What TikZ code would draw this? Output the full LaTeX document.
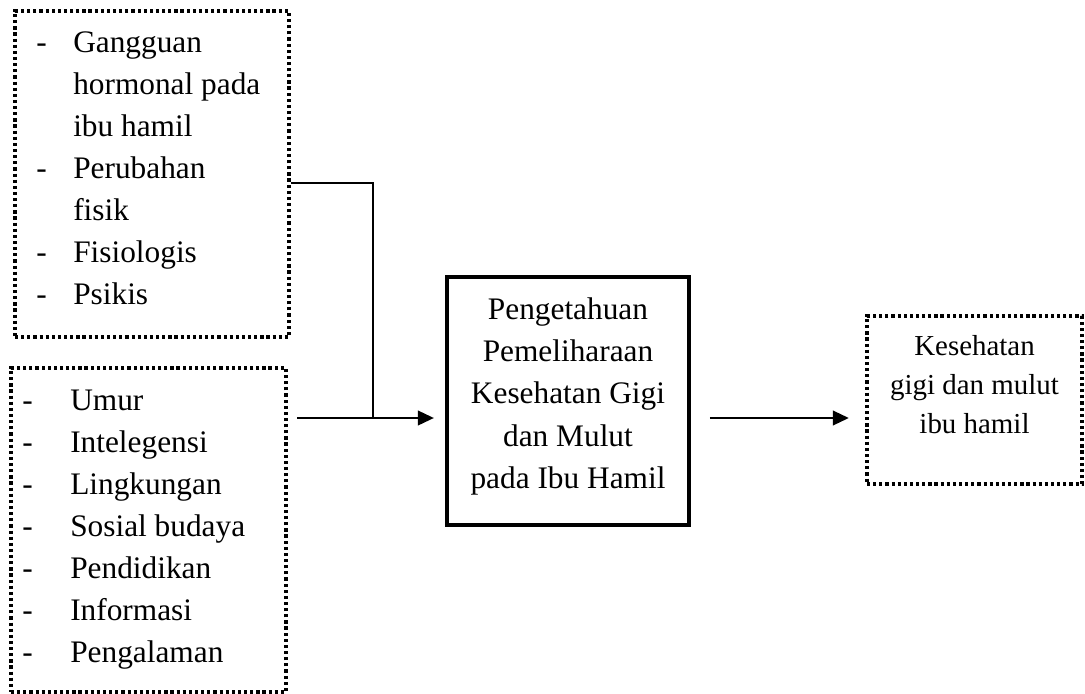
\documentclass[tikz,border=0pt]{standalone}
\usepackage{fontspec}
\setmainfont{Liberation Serif}
\usetikzlibrary{arrows.meta}
\tikzset{
  dotbox/.style={draw, line width=2.5pt, dash pattern=on 2.4pt off 2.2pt, inner sep=0pt},
  mainbox/.style={draw, line width=3.2pt, inner sep=0pt},
  conn/.style={line width=1.5pt},
  arr/.style={conn, -{Triangle[length=12pt,width=11pt]}},
  txt/.style={inner sep=0pt, anchor=base west, font=\fontsize{23.5}{28}\selectfont},
  ctxt/.style={inner sep=0pt, anchor=base, font=\fontsize{23.5}{28}\selectfont},
  rtxt/.style={inner sep=0pt, anchor=base, font=\fontsize{21.7}{26}\selectfont}
}
\begin{document}
\begin{tikzpicture}[x=0.75pt, y=-0.75pt]
\useasboundingbox (0,0) rectangle (1085,693);
\fill[white] (0,0) rectangle (1085,693);
% boxes
\node[dotbox, minimum width=274*0.75pt, minimum height=326*0.75pt] (tb) at (152,174) {};
\node[dotbox, minimum width=275*0.75pt, minimum height=324*0.75pt] (bb) at (148.5,530) {};
\node[mainbox, minimum width=242*0.75pt, minimum height=248*0.75pt] (cb) at (568,401) {};
\node[dotbox, minimum width=215*0.75pt, minimum height=168*0.75pt] (rb) at (974.5,400) {};
% top box text
\node[txt] (d1) at (36,52) {-};
\node[txt] (t1) at (73,52) {Gangguan};
\node[txt] (t2) at (73,94) {hormonal pada};
\node[txt] (t3) at (73,136) {ibu hamil};
\node[txt] (d4) at (36,178) {-};
\node[txt] (t4) at (73,178) {Perubahan};
\node[txt] (t5) at (73,220) {fisik};
\node[txt] (d6) at (36,262) {-};
\node[txt] (t6) at (73,262) {Fisiologis};
\node[txt] (d7) at (36,304) {-};
\node[txt] (t7) at (73,304) {Psikis};
% bottom box text
\foreach \lbl [count=\i from 0] in {Umur,Intelegensi,Lingkungan,Sosial budaya,Pendidikan,Informasi,Pengalaman}{
  \node[txt] (bd\i) at (22,410+42*\i) {-};
  \node[txt] (bt\i) at (70,410+42*\i) {\lbl};
}
% centre box text
\node[ctxt] (c1) at (568,319) {Pengetahuan};
\node[ctxt] (c2) at (568,361) {Pemeliharaan};
\node[ctxt] (c3) at (568,403) {Kesehatan Gigi};
\node[ctxt] (c4) at (568,446) {dan Mulut};
\node[ctxt] (c5) at (568,488) {pada Ibu Hamil};
% right box text
\node[rtxt] (r1) at (974.5,355) {Kesehatan};
\node[rtxt] (r2) at (974.5,394) {gigi dan mulut};
\node[rtxt] (r3) at (974.5,433) {ibu hamil};
% connectors
\coordinate (t0) at (300,183);
\coordinate (j) at (373,418);
\draw[conn] (tb.east |- t0) -| (j);
\draw[arr, shorten <=7pt, shorten >=8.25pt] (bb.east |- j) -- (cb.west |- j);
\draw[arr, shorten <=14pt, shorten >=12.4pt] (cb.east |- j) -- (rb.west |- j);
\end{tikzpicture}
\end{document}
